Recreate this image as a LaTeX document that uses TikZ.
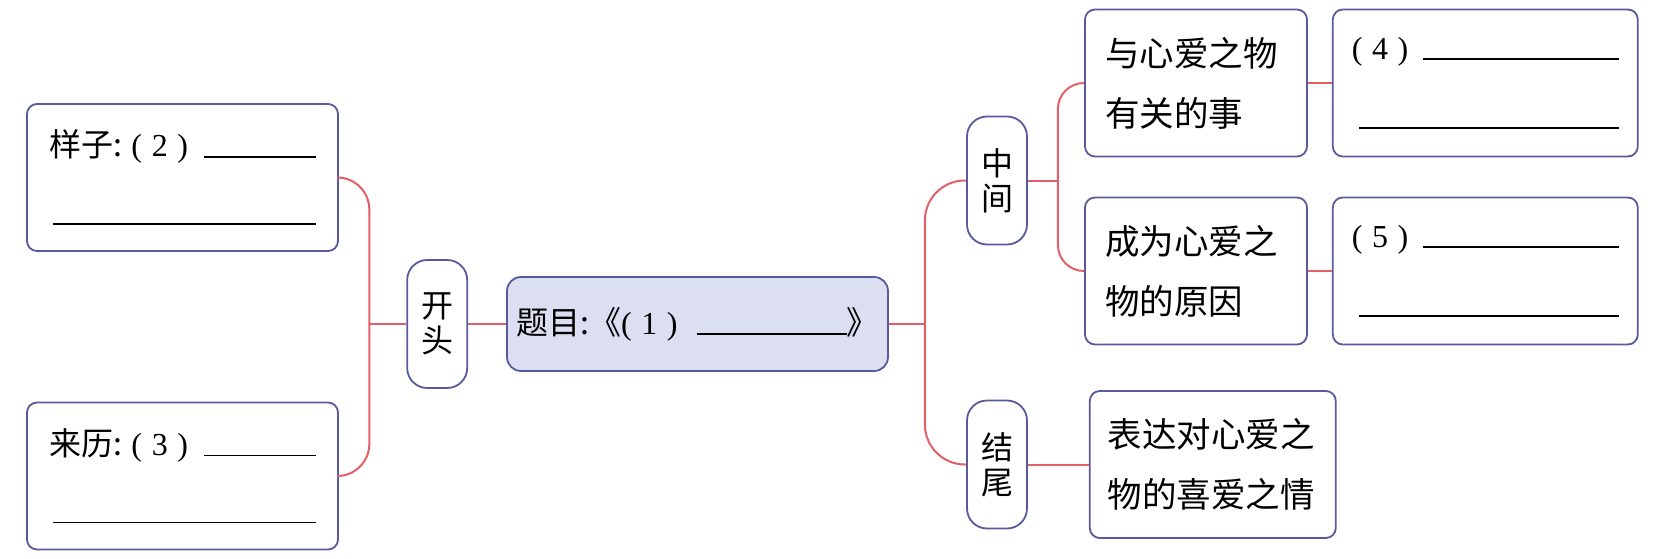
\documentclass[tikz,border=0pt]{standalone}
\usepackage{fontspec}
\setmainfont{Noto Sans CJK SC}
\newfontfamily\numfont{Liberation Serif}
\usepackage{tikz}
\usetikzlibrary{positioning}
\definecolor{boxline}{RGB}{88,90,160}
\definecolor{linkred}{RGB}{228,96,104}
\definecolor{titlefill}{RGB}{220,222,242}
\newcommand{\answerline}[1]{\rule[-1pt]{#1}{1.8pt}}
\newcommand{\blanknum}[1]{{\numfont(\hspace{0.3em}#1\hspace{0.3em})}}
\tikzset{
  leaf/.style={draw=boxline, line width=1.8pt, rounded corners=10pt, fill=white, minimum height=147pt, align=left},
  stage/.style={draw=boxline, line width=1.8pt, rounded corners=20pt, minimum width=60pt, minimum height=128pt, align=center, font=\fontsize{32}{35}\selectfont},
  link/.style={draw=linkred, line width=2pt}
}

\begin{document}
\begin{tikzpicture}[x=1pt, y=-1pt]
      \useasboundingbox (0,0) rectangle (1665,559);
      \node[draw=boxline, fill=titlefill, line width=1.8pt, rounded corners=14pt, minimum width=381pt, minimum height=94pt, inner xsep=8pt, font=\fontsize{32}{35}\selectfont] (title) at (697.5,324) {题目:《\blanknum{1}\hspace{0.6em}\answerline{150pt}》};
      % left side
      \node[stage, left=38pt of title] (kai) {开\\头};
      \node[leaf, minimum width=311pt, text width=267pt, font=\fontsize{32}{67}\selectfont] (yang) at (182.5,177.5) {样子:\hspace{0.3em}\blanknum{2}\hfill\answerline{112pt}\\\hfill\answerline{263pt}};
      \node[leaf, minimum width=311pt, text width=267pt, font=\fontsize{32}{67}\selectfont] (lai) at (182.5,476) {来历:\hspace{0.3em}\blanknum{3}\hfill\answerline{112pt}\\\hfill\answerline{263pt}};
      \coordinate[left=37pt of kai.west] (brL);
      \draw[link] (title) -- (kai);
      \draw[link] (kai.west) -- (brL);
      \draw[link, rounded corners=32pt] (yang.east) -| (brL) |- (lai.east);
      % right side
      \node[stage] (zhong) at (997,180.5) {中\\间};
      \node[stage] (jie) at (997,464.5) {结\\尾};
      \node[leaf, minimum width=222pt, text width=182pt, font=\fontsize{34.5}{60}\selectfont] (evA) at (1196,83) {与心爱之物\\有关的事};
      \node[leaf, minimum width=222pt, text width=182pt, font=\fontsize{34.5}{60}\selectfont] (evB) at (1196,271) {成为心爱之\\物的原因};
      \node[leaf, right=24pt of evA, minimum width=305pt, text width=267pt, font=\fontsize{32}{69}\selectfont] (ansA) {\blanknum{4}\hfill\answerline{196pt}\\\hfill\answerline{260pt}};
      \node[leaf, right=24pt of evB, minimum width=305pt, text width=267pt, font=\fontsize{32}{69}\selectfont] (ansB) {\blanknum{5}\hfill\answerline{196pt}\\\hfill\answerline{260pt}};
      \node[leaf, right=61pt of jie, minimum width=246pt, text width=210pt, font=\fontsize{34.5}{60}\selectfont] (feel) {表达对心爱之\\物的喜爱之情};
      \coordinate[right=36pt of title.east] (brR);
      \coordinate[right=30pt of zhong.east] (brM);
      \draw[link] (title.east) -- (brR);
      \draw[link, rounded corners=40pt] (zhong.west) -| (brR) |- (jie.west);
      \draw[link] (zhong.east) -- (brM);
      \draw[link, rounded corners=26pt] (evA.west) -| (brM) |- (evB.west);
      \draw[link] (evA) -- (ansA);
      \draw[link] (evB) -- (ansB);
      \draw[link] (jie) -- (feel);
\end{tikzpicture}
\end{document}
